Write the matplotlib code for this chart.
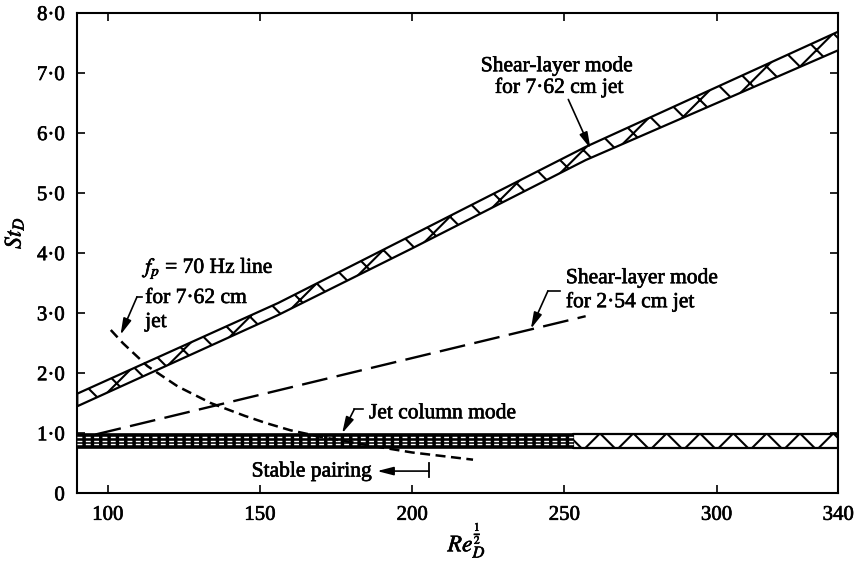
import matplotlib
matplotlib.use('Agg')
import matplotlib.pyplot as plt
import matplotlib.patheffects as pe

plt.rcParams['font.family'] = ['Liberation Serif', 'DejaVu Serif']
plt.rcParams['mathtext.fontset'] = 'stix'
plt.rcParams['hatch.linewidth'] = 1.5

# ---------------- data ----------------
x_ticks = [100, 150, 200, 250, 300, 340]
x_tick_labels = ['100', '150', '200', '250', '300', '340']
y_ticks = [0, 1, 2, 3, 4, 5, 6, 7, 8]
y_tick_labels = ['0', '1·0', '2·0', '3·0', '4·0', '5·0', '6·0', '7·0', '8·0']

# shear-layer mode, 7.62 cm jet (hatched band)
shear762_x = [90, 156, 200, 257, 340]
shear762_lower = [1.45, 2.97, 4.08, 5.55, 7.38]
shear762_upper = [1.66, 3.17, 4.30, 5.77, 7.69]

# jet column mode band
jetcol_left_x = [90, 253]
jetcol_right_x = [253, 340]
jetcol_lower = [0.76, 0.76]
jetcol_upper = [0.99, 0.99]

# shear-layer mode, 2.54 cm jet (long dashes)
shear254_x = [96, 257]
shear254_st = [0.98, 2.95]

# f_p = 70 Hz line (short dashes)
fp_x = [101, 105, 113, 123, 134, 145, 152, 160, 170, 180, 188, 200, 210, 220]
fp_st = [2.72, 2.50, 2.12, 1.78, 1.50, 1.29, 1.17, 1.05, 0.94, 0.85, 0.78, 0.68, 0.62, 0.56]

# stable pairing range marker
stable_x = [188.5, 205.6]
stable_st = 0.37

# ---------------- figure ----------------
W, H = 855, 562
fig = plt.figure(figsize=(W / 100, H / 100), dpi=100)
L, R, T, B = 77.3, 838.3, 13.0, 493.3
ax = fig.add_axes([L / W, (H - B) / H, (R - L) / W, (B - T) / H])
ax.set_xlim(90, 340)
ax.set_ylim(0, 8)

thick = [pe.withStroke(linewidth=0.45, foreground='black')]

# shear-layer band 7.62 cm
ax.fill_between(shear762_x, shear762_lower, shear762_upper, facecolor='white',
                edgecolor='black', hatch='x', linewidth=1.6, zorder=3)

# jet column band
ax.fill_between(jetcol_left_x, jetcol_lower, jetcol_upper, facecolor='black',
                edgecolor='black', linewidth=1.2, zorder=3)
for yy in [0.93, 0.87, 0.815]:
    ax.plot(jetcol_left_x, [yy, yy], color='white', lw=1.0,
            dashes=(3.5, 2.5), dash_capstyle='butt', zorder=4)
ax.fill_between(jetcol_right_x, jetcol_lower, jetcol_upper, facecolor='white',
                edgecolor='black', hatch='x', linewidth=1.6, zorder=3)

# 2.54 cm jet shear-layer line
ax.plot(shear254_x, shear254_st, color='black', lw=1.7, dashes=(11, 4), zorder=5)

# f_p = 70 Hz line
ax.plot(fp_x, fp_st, color='black', lw=1.8, dashes=(4, 2.2), zorder=5)

# ---------------- annotations ----------------
fs = 15.5
arrow_kw = dict(arrowstyle='-|>,head_length=0.7,head_width=0.18', color='black',
                lw=1.2, shrinkA=0, shrinkB=0, mutation_scale=14)

texts = []
texts.append(ax.text(247.5, 7.03, 'Shear-layer mode', ha='center', va='baseline', fontsize=fs))
texts.append(ax.text(248.3, 6.67, 'for 7·62 cm jet', ha='center', va='baseline', fontsize=fs))
ax.annotate('', xy=(258.6, 5.74), xytext=(251.3, 6.56), arrowprops=arrow_kw, zorder=6)

texts.append(ax.text(112.3, 3.67, '$f_p$ = 70 Hz line', ha='left', va='baseline', fontsize=fs))
texts.append(ax.text(112.3, 3.17, 'for 7·62 cm', ha='left', va='baseline', fontsize=fs))
texts.append(ax.text(112.3, 2.77, 'jet', ha='left', va='baseline', fontsize=fs))
ax.plot([111.3, 109.6], [3.27, 3.27], color='black', lw=1.2)
ax.annotate('', xy=(104.2, 2.64), xytext=(109.6, 3.27), arrowprops=arrow_kw, zorder=6)

texts.append(ax.text(250.5, 3.50, 'Shear-layer mode', ha='left', va='baseline', fontsize=fs))
texts.append(ax.text(250.5, 3.10, 'for 2·54 cm jet', ha='left', va='baseline', fontsize=fs))
ax.plot([248.6, 244.6], [3.37, 3.37], color='black', lw=1.2)
ax.annotate('', xy=(239.0, 2.74), xytext=(244.6, 3.37), arrowprops=arrow_kw, zorder=6)

texts.append(ax.text(185.8, 1.25, 'Jet column mode', ha='left', va='baseline', fontsize=fs))
ax.plot([183.8, 181.0], [1.40, 1.40], color='black', lw=1.2)
ax.annotate('', xy=(177.0, 1.0), xytext=(181.0, 1.40), arrowprops=arrow_kw, zorder=6)

texts.append(ax.text(186.6, 0.28, 'Stable pairing', ha='right', va='baseline', fontsize=fs))
ax.plot([stable_x[1], stable_x[1]], [0.27, 0.50], color='black', lw=1.3)
ax.annotate('', xy=(stable_x[0], stable_st), xytext=(stable_x[1], stable_st),
            arrowprops=arrow_kw, zorder=6)

# ---------------- axes styling ----------------
ax.set_xticks(x_ticks)
ax.set_xticklabels(x_tick_labels)
ax.set_yticks(y_ticks)
ax.set_yticklabels(y_tick_labels)
ax.tick_params(direction='in', length=6, width=1.2, top=True, right=True,
               labelsize=15, pad=9)
for s in ax.spines.values():
    s.set_linewidth(1.5)

texts.append(ax.text(-0.083, 0.542, '$St_D$', transform=ax.transAxes, rotation=90,
                     ha='center', va='center', fontsize=17))
texts.append(ax.text(0.512, -0.098, r'$Re_D^{\frac{1}{2}}$', transform=ax.transAxes,
                     ha='center', va='center', fontsize=17))

for t in texts + ax.get_xticklabels() + ax.get_yticklabels():
    t.set_path_effects(thick)

fig.savefig('out.png', dpi=100)
